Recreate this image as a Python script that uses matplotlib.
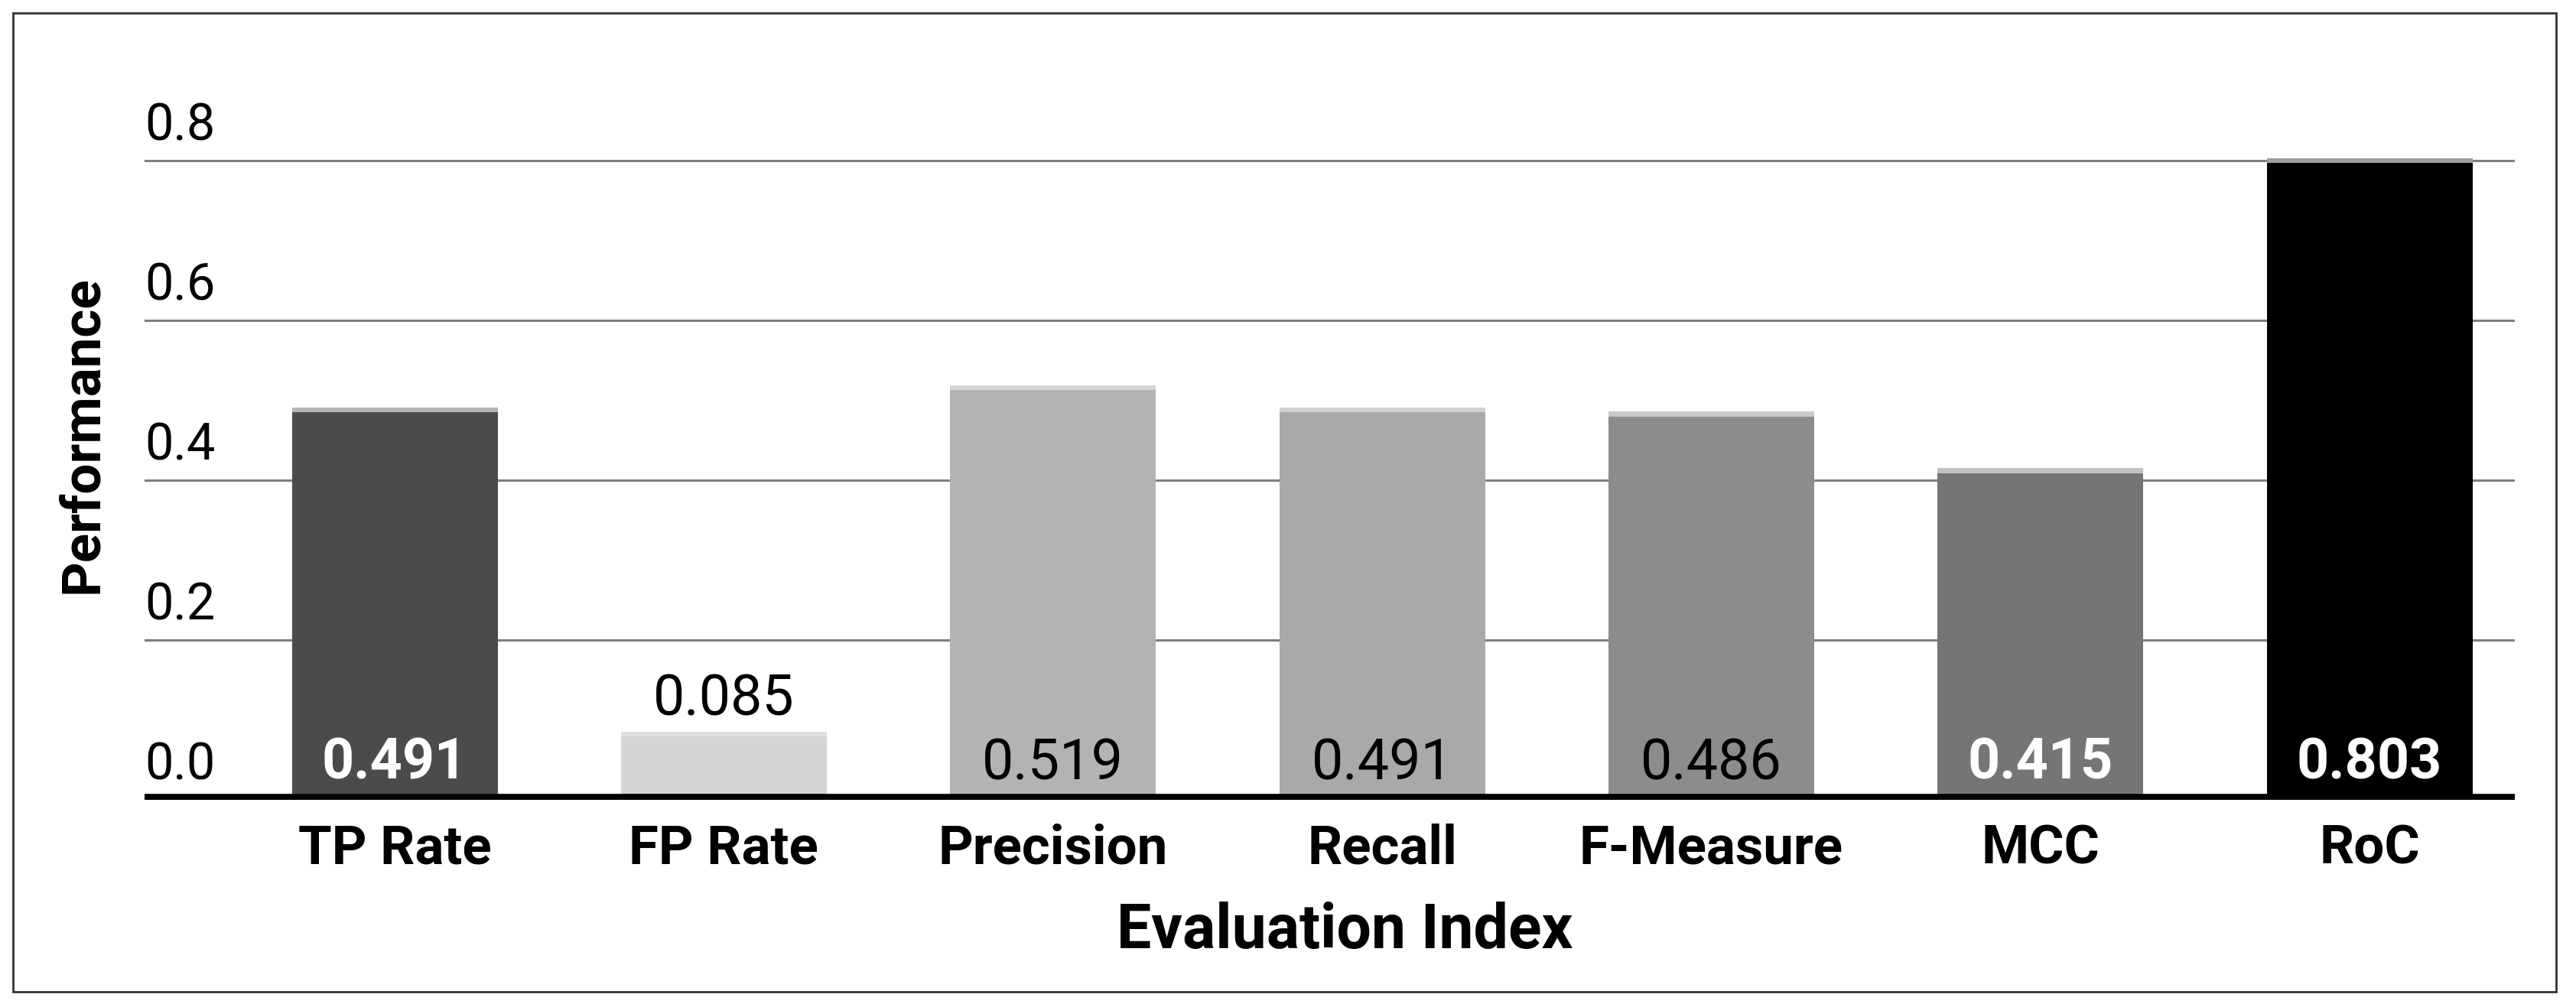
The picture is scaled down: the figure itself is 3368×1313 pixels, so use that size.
import matplotlib.pyplot as plt
from matplotlib.patches import Rectangle

# data
categories = ['TP Rate', 'FP Rate', 'Precision', 'Recall', 'F-Measure', 'MCC', 'RoC']
values = [0.491, 0.085, 0.519, 0.491, 0.486, 0.415, 0.803]
yticks = [0.0, 0.2, 0.4, 0.6, 0.8]

# styling
bar_colors = ['#4b4b4b', '#d4d4d4', '#b3b3b3', '#a9a9a9', '#8c8c8c', '#757575', '#000000']
label_colors = ['white', 'black', 'black', 'black', 'black', 'white', 'white']

plt.rcParams['font.family'] = ['Roboto', 'DejaVu Sans']

fig = plt.figure(figsize=(33.68, 13.13), dpi=100)
ax = fig.add_axes([0.0561, 0.2034, 0.920, 0.716])

x = list(range(len(categories)))
ax.bar(x, values, width=0.625, color=bar_colors, zorder=2)
# thin light strip along each bar top
ax.bar(x, [0.006] * len(x), bottom=[v - 0.006 for v in values], width=0.625,
       color='#e4e4e4', alpha=0.7, zorder=2.5)

ax.set_xlim(-0.76, 6.44)
ax.set_ylim(0, 0.9)

# gridlines + labels sitting above them
for t in yticks[1:]:
    ax.axhline(t, color='#7f7f7f', lw=2.2, zorder=1)
for t in yticks:
    ax.text(-0.76, t + 0.012, f'{t:.1f}', ha='left', va='bottom', fontsize=48, color='black')
ax.axhline(0, color='black', lw=12, zorder=3)

# value labels
for xi, v, c in zip(x, values, label_colors):
    if v < 0.15:
        ax.text(xi, v + 0.04, f'{v:.3f}', ha='center', va='center', fontsize=53, color='black')
    else:
        ax.text(xi, 0.045, f'{v:.3f}', ha='center', va='center', fontsize=53,
                color=c, fontweight='bold' if c == 'white' else 'normal', zorder=4)

ax.set_xticks(x)
ax.set_xticklabels(categories, fontsize=51, fontweight='bold')
ax.tick_params(axis='x', length=0, pad=22)
ax.set_yticks([])
for s in ax.spines.values():
    s.set_visible(False)

fig.text(0.522, 0.072, 'Evaluation Index', ha='center', va='center', fontsize=58, fontweight='bold')
fig.text(0.0318, 0.567, 'Performance', ha='center', va='center', rotation=90, fontsize=51, fontweight='bold')

# outer frame
fig.patches.append(Rectangle((0.005, 0.0122), 0.9873, 0.9748, transform=fig.transFigure,
                             fill=False, edgecolor='#333333', lw=2))

fig.savefig('out.png', dpi=100)
